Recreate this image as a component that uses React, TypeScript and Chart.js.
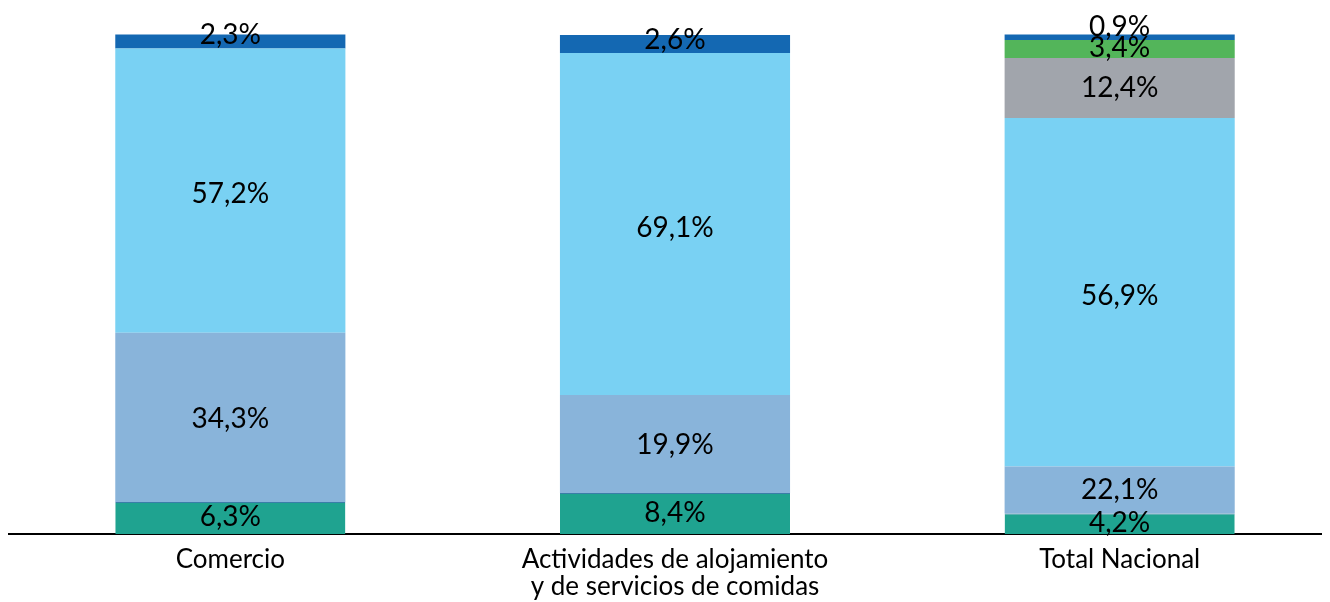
import React, { useEffect, useRef } from "react";
import { Chart, registerables } from "chart.js";

Chart.register(...registerables);

const categories: (string | string[])[] = [
  "Comercio",
  ["Actividades de alojamiento", "y de servicios de comidas"],
  "Total Nacional",
];

// Heights of the segments as drawn in the picture
const seriesTeal = [6.4, 8.2, 4.1];
const seriesSteel = [33.9, 19.6, 9.4];
const seriesSky = [56.9, 68.5, 69.8];
const seriesGrey = [null, null, 12.0];
const seriesGreen = [null, null, 3.6];
const seriesDarkBlue = [2.8, 3.6, 1.1];

// Printed labels
const labelsTeal = ["6,3%", "8,4%", "4,2%"];
const labelsSteel = ["34,3%", "19,9%", "22,1%"];
const labelsSky = ["57,2%", "69,1%", "56,9%"];
const labelsGrey = [null, null, "12,4%"];
const labelsGreen = [null, null, "3,4%"];
const labelsDarkBlue = ["2,3%", "2,6%", "0,9%"];

const colors = ["#1fa390", "#89b4da", "#79d1f3", "#a1a5ac", "#53b55a", "#1468b2"];

const FONT = "Lato, 'Open Sans', sans-serif";

const allLabels = [labelsTeal, labelsSteel, labelsSky, labelsGrey, labelsGreen, labelsDarkBlue];

const labelPlugin = {
  id: "segLabels",
  afterDatasetsDraw(chart: any) {
    const ctx = chart.ctx;
    ctx.save();
    ctx.fillStyle = "#000";
    ctx.font = `28px ${FONT}`;
    ctx.textAlign = "center";
    ctx.textBaseline = "middle";
    const last = chart.data.datasets.length - 1;
    chart.data.datasets.forEach((ds: any, di: number) => {
      const meta = chart.getDatasetMeta(di);
      meta.data.forEach((bar: any, i: number) => {
        const txt = allLabels[di][i];
        if (txt === null || txt === undefined) return;
        const { x, y, base } = bar.getProps(["x", "y", "base"], true);
        const h = base - y;
        let cy = (y + base) / 2 + 0.015 * h - 1;
        if (di === last) cy = base - 13;
        ctx.fillText(txt, x, cy);
      });
    });
    ctx.restore();
  },
};

export default function App() {
  const ref = useRef<HTMLCanvasElement | null>(null);
  useEffect(() => {
    document.documentElement.style.overflow = "hidden";
    const data = [seriesTeal, seriesSteel, seriesSky, seriesGrey, seriesGreen, seriesDarkBlue];
    const chart = new Chart(ref.current!, {
      type: "bar",
      data: {
        labels: categories as any,
        datasets: data.map((d, i) => ({
          data: d as any,
          backgroundColor: colors[i],
          borderWidth: i === 0 ? { top: 1, left: 0, right: 0, bottom: 0 } : 0,
          borderColor: "#3a7ea8",
          borderSkipped: false,
          categoryPercentage: 1,
          barPercentage: 0.5175,
        })),
      },
      options: {
        animation: false,
        responsive: true,
        maintainAspectRatio: false,
        layout: { padding: 0 },
        plugins: { legend: { display: false }, tooltip: { enabled: false } },
        scales: {
          x: {
            stacked: true,
            grid: { display: false, drawTicks: false },
            border: { display: true, color: "#000", width: 2 },
            ticks: {
              color: "#000",
              font: { family: FONT, size: 26, lineHeight: 1.04 },
              padding: 12,
              maxRotation: 0,
              autoSkip: false,
            },
          },
          y: {
            stacked: true,
            display: false,
            min: 0,
            max: 105.3,
          },
        },
      },
      plugins: [labelPlugin],
    });
    return () => chart.destroy();
  }, []);
  return (
    <div style={{ width: 1334, height: 604, position: "relative" }}>
      <canvas ref={ref} />
    </div>
  );
}
